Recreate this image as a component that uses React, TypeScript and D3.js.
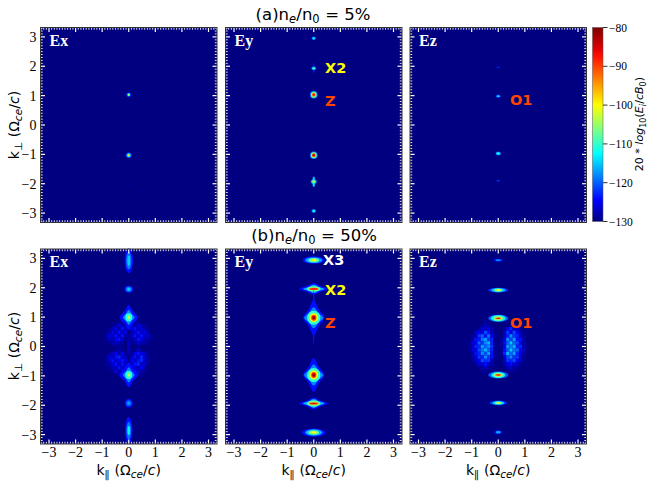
import React from 'react';
import * as d3 from 'd3';

// contour = [half width in k_par, half height in k_perp, level dB, star shape flag]
type Contour = [number, number, number, number?];
type Spot = [number, number, Contour[]];

const smallEx: Spot[] = [
  [0, 1.03, [[0.09, 0.08, -122], [0.05, 0.05, -112], [0.025, 0.025, -100]]],
  [0, -1.03, [[0.1, 0.09, -120], [0.06, 0.06, -110], [0.03, 0.03, -98]]],
  [0, -2.03, [[0.02, 0.02, -127]]],
  [0, -3.0, [[0.02, 0.02, -127]]],
];
const smallEy: Spot[] = [
  [0, 2.95, [[0.08, 0.06, -120], [0.05, 0.035, -113]]],
  [0, 1.93, [[0.03, 0.2, -124], [0.09, 0.07, -120], [0.06, 0.04, -110]]],
  [0, 1.03, [[0.14, 0.13, -118], [0.11, 0.1, -108], [0.08, 0.07, -95], [0.045, 0.045, -87]]],
  [0, -1.03, [[0.14, 0.13, -118], [0.11, 0.1, -108], [0.08, 0.07, -95], [0.05, 0.05, -85]]],
  [0, -1.93, [[0.11, 0.07, -116], [0.05, 0.18, -115], [0.06, 0.05, -105]]],
  [0, -2.93, [[0.09, 0.07, -120], [0.05, 0.04, -112]]],
];
const smallEz: Spot[] = [
  [0, 1.97, [[0.07, 0.025, -123]]],
  [0, 0.98, [[0.09, 0.06, -122], [0.06, 0.03, -114]]],
  [0, -0.97, [[0.1, 0.07, -120], [0.07, 0.04, -112]]],
  [0, -1.9, [[0.07, 0.025, -122]]],
];
const largeEx: Spot[] = [
  [0, 2.92, [[0.16, 0.42, -124], [0.1, 0.3, -119], [0.05, 0.18, -115]]],
  [0, 1.95, [[0.16, 0.12, -124], [0.11, 0.09, -119], [0.06, 0.05, -115]]],
  [0, 0.99, [[0.35, 0.42, -124, 1], [0.22, 0.26, -118, 1], [0.13, 0.14, -111], [0.06, 0.07, -104]]],
  [0, -0.97, [[0.35, 0.42, -124, 1], [0.22, 0.26, -118, 1], [0.13, 0.14, -111], [0.06, 0.07, -104]]],
  [0, -1.93, [[0.15, 0.15, -124], [0.1, 0.1, -120], [0.05, 0.05, -117]]],
  [0, -2.86, [[0.14, 0.45, -124], [0.09, 0.3, -119], [0.05, 0.15, -113]]],
];
const largeEy: Spot[] = [
  [0, 2.94, [[0.42, 0.13, -124], [0.32, 0.1, -117], [0.2, 0.07, -108], [0.1, 0.04, -100]]],
  [0, 1.96, [[0.55, 0.2, -124, 1], [0.4, 0.14, -116, 1], [0.25, 0.09, -107], [0.18, 0.04, -92], [0.13, 0.02, -87]]],
  [0, 0.98, [[0.025, 0.95, -123], [0.4, 0.6, -124, 1], [0.36, 0.36, -118, 1], [0.25, 0.24, -110], [0.16, 0.15, -100], [0.1, 0.1, -90], [0.06, 0.06, -82]]],
  [0, -0.97, [[0.4, 0.58, -124, 1], [0.36, 0.36, -118, 1], [0.25, 0.24, -110], [0.16, 0.15, -100], [0.1, 0.1, -90], [0.06, 0.06, -82]]],
  [0, -1.94, [[0.55, 0.2, -124, 1], [0.4, 0.15, -116, 1], [0.25, 0.1, -107], [0.18, 0.045, -92], [0.13, 0.02, -86]]],
  [0, -2.93, [[0.45, 0.14, -124], [0.32, 0.11, -116], [0.2, 0.07, -107], [0.1, 0.04, -100]]],
];
const largeEz: Spot[] = [
  [0, 2.94, [[0.17, 0.05, -124], [0.1, 0.03, -118]]],
  [0, 1.92, [[0.38, 0.08, -122], [0.27, 0.07, -115], [0.15, 0.05, -106], [0.07, 0.03, -100]]],
  [0, 0.96, [[0.38, 0.12, -120], [0.28, 0.11, -113], [0.18, 0.08, -105], [0.12, 0.03, -92], [0.07, 0.015, -86]]],
  [0, -0.97, [[0.38, 0.12, -120], [0.26, 0.1, -112], [0.17, 0.07, -105], [0.12, 0.03, -92], [0.07, 0.015, -86]]],
  [0, -1.92, [[0.33, 0.08, -122], [0.22, 0.06, -114], [0.12, 0.04, -106], [0.06, 0.025, -100]]],
  [0, -2.92, [[0.15, 0.07, -124], [0.09, 0.04, -116]]],
];

// speckled lobes, dB above the floor, one row per k_perp value
const exLobeParallel = [-0.84, -0.72, -0.6, -0.48, -0.36, -0.24, -0.12, 0, 0.12, 0.24, 0.36, 0.48, 0.6, 0.72, 0.84];
const exLobePerp = [0.84, 0.72, 0.6, 0.48, 0.36, 0.24, 0.12, 0, -0.12, -0.24, -0.36, -0.48, -0.6, -0.72, -0.84, -0.96];
const exLobeLevels = [
  [0, 0, 0, 0, 1, 2, 3, 4, 3, 2, 1, 0, 0, 0, 0],
  [0, 0, 1, 2, 4, 2, 3, 4, 3, 2, 4, 2, 1, 0, 0],
  [0, 1, 2, 5, 2, 6, 3, 1, 4, 6, 3, 4, 2, 1, 0],
  [1, 2, 5, 2, 6, 3, 4, 0, 2, 4, 6, 3, 5, 2, 0],
  [2, 4, 3, 6, 3, 6, 2, 1, 3, 6, 3, 6, 3, 4, 1],
  [1, 3, 2, 5, 6, 3, 1, 2, 1, 3, 6, 4, 2, 2, 1],
  [0, 1, 2, 3, 2, 2, 0, 3, 0, 2, 3, 2, 2, 1, 0],
  [0, 0, 0, 1, 1, 0, 0, 3, 0, 0, 1, 0, 0, 0, 0],
  [0, 0, 0, 1, 2, 1, 0, 3, 0, 1, 3, 1, 0, 0, 0],
  [0, 1, 3, 5, 2, 5, 1, 2, 1, 5, 6, 4, 3, 1, 0],
  [1, 4, 3, 6, 7, 3, 3, 0, 3, 6, 3, 7, 4, 2, 0],
  [1, 3, 6, 3, 5, 6, 4, 1, 5, 3, 6, 7, 3, 2, 0],
  [1, 2, 4, 6, 3, 6, 3, 2, 4, 6, 7, 3, 4, 1, 0],
  [0, 1, 3, 3, 6, 3, 5, 3, 5, 4, 3, 5, 2, 0, 0],
  [0, 0, 1, 4, 2, 5, 3, 4, 2, 5, 3, 2, 1, 0, 0],
  [0, 0, 0, 1, 2, 2, 3, 4, 3, 2, 2, 1, 0, 0, 0],
];
const ezLobeParallel = [-1.08, -0.96, -0.84, -0.72, -0.6, -0.48, -0.36, -0.24, -0.12, 0, 0.12, 0.24, 0.36, 0.48, 0.6, 0.72, 0.84, 0.96, 1.08];
const ezLobePerp = [0.84, 0.72, 0.6, 0.48, 0.36, 0.24, 0.12, 0, -0.12, -0.24, -0.36, -0.48, -0.6, -0.72, -0.84];
const ezLobeLevels = [
  [0, 0, 0, 0, 0, 1, 1, 0, 0, 0, 0, 0, 1, 1, 0, 0, 0, 0, 0],
  [0, 0, 0, 0, 1, 3, 1, 0, 0, 0, 0, 0, 0, 3, 1, 1, 0, 0, 0],
  [0, 0, 0, 2, 4, 3, 5, 2, 0, 0, 0, 1, 5, 7, 3, 3, 1, 0, 0],
  [0, 0, 3, 5, 4, 9, 6, 3, 0, 0, 0, 3, 8, 5, 9, 5, 2, 1, 0],
  [0, 1, 3, 8, 10, 6, 11, 5, 1, 0, 0, 3, 7, 12, 8, 7, 4, 1, 0],
  [0, 2, 6, 6, 11, 13, 8, 7, 1, 0, 1, 5, 12, 9, 13, 6, 6, 2, 0],
  [1, 4, 5, 10, 8, 12, 14, 7, 1, 0, 1, 6, 10, 15, 10, 9, 5, 2, 0],
  [1, 3, 7, 7, 13, 10, 12, 8, 1, 0, 1, 5, 13, 11, 14, 7, 7, 2, 1],
  [1, 4, 5, 9, 11, 14, 10, 7, 1, 0, 1, 6, 10, 15, 11, 10, 5, 3, 0],
  [0, 2, 6, 7, 12, 9, 13, 6, 1, 0, 1, 7, 14, 10, 13, 7, 4, 2, 0],
  [0, 2, 4, 8, 7, 12, 8, 6, 1, 0, 0, 4, 9, 12, 8, 8, 4, 1, 0],
  [0, 1, 3, 5, 9, 7, 8, 3, 0, 0, 0, 3, 8, 7, 9, 5, 3, 1, 0],
  [0, 0, 1, 4, 4, 6, 4, 2, 0, 0, 0, 2, 5, 6, 4, 3, 1, 0, 0],
  [0, 0, 0, 1, 2, 3, 1, 1, 0, 0, 0, 0, 3, 3, 2, 1, 0, 0, 0],
  [0, 0, 0, 0, 1, 1, 0, 0, 0, 0, 0, 0, 1, 1, 1, 0, 0, 0, 0],
];

const colorTicks = [-80, -90, -100, -110, -120, -130];
const axisTicks = [-3, -2, -1, 0, 1, 2, 3];
const jetLevels = [-130, -124.5, -112.5, -100, -87.5, -85.5, -80];
const jetColors = ['#000080', '#0000ff', '#00ffff', '#ffff00', '#ff1000', '#e00000', '#800000'];

const WIDTH = 654;
const HEIGHT = 485;
const FLOOR = -130;
const K_MAX = 3.32;
const PANEL_W = 176.5;
const PANEL_H = 195;
const columns = [40.5, 225.5, 410];
const rows = [27.5, 249];
const SERIF = '"Liberation Serif", serif';
const SANS = '"DejaVu Sans", sans-serif';

const color = d3.scaleLinear<string>().domain(jetLevels).range(jetColors).clamp(true);
const minorTicks = d3.range(-33, 34).map(d => d / 10);
const xScale = d3.scaleLinear().domain([-K_MAX, K_MAX]).range([0, PANEL_W]);
const yScale = d3.scaleLinear().domain([K_MAX, -K_MAX]).range([0, PANEL_H]);
const barScale = d3.scaleLinear().domain([-80, -130]).range([27.5, 221.5]);
const starLine = d3.line().curve(d3.curveCatmullRomClosed.alpha(0.5));

const minus = (d: number) => String(d).replace('-', '\u2212');

function contourMark(c: Contour, key: number, cx: number, cy: number) {
  const rx = xScale(c[0]) - xScale(0);
  const ry = yScale(-c[1]) - yScale(0);
  if (c[3]) {
    const w = 0.48;
    const pts: [number, number][] = [
      [cx + rx, cy], [cx + rx * w, cy + ry * w], [cx, cy + ry], [cx - rx * w, cy + ry * w],
      [cx - rx, cy], [cx - rx * w, cy - ry * w], [cx, cy - ry], [cx + rx * w, cy - ry * w],
    ];
    return <path key={key} d={starLine(pts) as string} fill={color(c[2])} />;
  }
  return <ellipse key={key} cx={cx} cy={cy} rx={rx} ry={ry} fill={color(c[2])} />;
}

const Lobes: React.FC<{ par: number[]; perp: number[]; levels: number[][] }> = ({ par, perp, levels }) => {
  const w = xScale(par[1]) - xScale(par[0]);
  const h = yScale(perp[1]) - yScale(perp[0]);
  return (
    <g>
      {levels.map((row, i) => row.map((v, j) => v > 0 && (
        <rect key={`${i}-${j}`} x={xScale(par[j]) - w / 2} y={yScale(perp[i]) - h / 2}
          width={w} height={h} fill={color(FLOOR + v)} />
      )))}
    </g>
  );
};

const Ticks: React.FC = () => (
  <g stroke="#fff" strokeWidth={0.9}>
    {minorTicks.map(d => {
      const major = Number.isInteger(d);
      const len = major ? 4.5 : 2.2;
      const x = xScale(d);
      const y = yScale(d);
      return (
        <g key={d} strokeWidth={major ? 1.2 : 0.9}>
          <line x1={x} x2={x} y1={0} y2={len} />
          <line x1={x} x2={x} y1={PANEL_H - len} y2={PANEL_H} />
          <line x1={0} x2={len} y1={y} y2={y} />
          <line x1={PANEL_W - len} x2={PANEL_W} y1={y} y2={y} />
        </g>
      );
    })}
  </g>
);

const Panel: React.FC<{
  col: number; row: number; name: string; spots: Spot[]; lobes?: React.ReactNode; yLabels?: boolean; xLabels?: boolean;
}> = ({ col, row, name, spots, lobes, yLabels, xLabels }) => (
  <g transform={`translate(${columns[col]},${rows[row]})`}>
    <rect width={PANEL_W} height={PANEL_H} fill={color(FLOOR)} />
    <g filter="url(#soft)">
      {lobes}
      {spots.map((s, i) => (
        <g key={i}>{s[2].map((c, j) => contourMark(c, j, xScale(s[0]), yScale(s[1])))}</g>
      ))}
    </g>
    <Ticks />
    <rect width={PANEL_W} height={PANEL_H} fill="none" stroke="#333" strokeWidth={1} />
    <text x={9} y={18} fill="#fff" fontFamily={SERIF} fontWeight="bold" fontSize={16}>{name}</text>
    {yLabels && axisTicks.map(d => (
      <text key={d} x={-4} y={yScale(d)} dy="0.35em" textAnchor="end" fontFamily={SERIF} fontSize={14}>{minus(d)}</text>
    ))}
    {xLabels && axisTicks.map(d => (
      <text key={d} x={xScale(d)} y={PANEL_H + 13} textAnchor="middle" fontFamily={SERIF} fontSize={14}>{minus(d)}</text>
    ))}
  </g>
);

const Sub: React.FC<{ children: React.ReactNode; italic?: boolean; size?: number }> = ({ children, italic, size = 10.5 }) => (
  <>
    <tspan dy={3} fontSize={size} fontStyle={italic ? 'italic' : 'normal'}>{children}</tspan>
    <tspan dy={-3} fontSize={2}>{'\u200a'}</tspan>
  </>
);

const AxisText: React.FC<{ sym: string }> = ({ sym }) => (
  <>
    k<Sub>{sym}</Sub> (Ω<Sub italic>ce</Sub>/<tspan fontStyle="italic">c</tspan>)
  </>
);

const Title: React.FC<{ x: number; y: number; tag: string; value: string }> = ({ x, y, tag, value }) => (
  <text x={x} y={y} textAnchor="middle" fontFamily={SANS} fontSize={16.5}>
    {tag}n<Sub italic size={11.5}>e</Sub>/n<Sub size={11.5}>0</Sub> = {value}
  </text>
);

const Note: React.FC<{ x: number; y: number; fill: string; children: string }> = ({ x, y, fill, children }) => (
  <text x={x} y={y} dy="0.36em" fill={fill} fontFamily={SANS} fontWeight="bold" fontSize={14.5}>{children}</text>
);

export default function App() {
  return (
    <svg width={WIDTH} height={HEIGHT} style={{ position: 'absolute', left: 0, top: 0, background: '#fff' }}>
      <defs>
        <filter id="soft" x="-5%" y="-5%" width="110%" height="110%">
          <feGaussianBlur stdDeviation={0.55} />
        </filter>
        <linearGradient id="jet" x1={0} x2={0} y1={1} y2={0}>
          {jetLevels.map(l => (
            <stop key={l} offset={(l - FLOOR) / 50} stopColor={color(l)} />
          ))}
        </linearGradient>
      </defs>

      <Title x={313} y={20} tag="(a)" value="5%" />
      <Title x={314} y={241} tag="(b)" value="50%" />

      <Panel col={0} row={0} name="Ex" spots={smallEx} yLabels />
      <Panel col={1} row={0} name="Ey" spots={smallEy} />
      <Panel col={2} row={0} name="Ez" spots={smallEz} />
      <Panel col={0} row={1} name="Ex" spots={largeEx} yLabels xLabels
        lobes={<Lobes par={exLobeParallel} perp={exLobePerp} levels={exLobeLevels} />} />
      <Panel col={1} row={1} name="Ey" spots={largeEy} xLabels />
      <Panel col={2} row={1} name="Ez" spots={largeEz} xLabels
        lobes={<Lobes par={ezLobeParallel} perp={ezLobePerp} levels={ezLobeLevels} />} />

      <Note x={325} y={68} fill="#ffff00">X2</Note>
      <Note x={325} y={101} fill="#ff4500">Z</Note>
      <Note x={510} y={100} fill="#ff4500">O1</Note>
      <Note x={323} y={260} fill="#fff">X3</Note>
      <Note x={325} y={290} fill="#ffff00">X2</Note>
      <Note x={325} y={323} fill="#ff4500">Z</Note>
      <Note x={510} y={323} fill="#ff4500">O1</Note>

      <text transform="translate(19,125) rotate(-90)" textAnchor="middle" fontFamily={SANS} fontSize={14}>
        <AxisText sym="⊥" />
      </text>
      <text transform="translate(19,346) rotate(-90)" textAnchor="middle" fontFamily={SANS} fontSize={14}>
        <AxisText sym="⊥" />
      </text>
      {columns.map(c => (
        <text key={c} x={c + PANEL_W / 2} y={475} textAnchor="middle" fontFamily={SANS} fontSize={14}>
          <AxisText sym="∥" />
        </text>
      ))}

      <rect x={592.5} y={27.5} width={10.5} height={194} fill="url(#jet)" stroke="#555" strokeWidth={0.5} />
      {colorTicks.map(d => (
        <g key={d}>
          <line x1={603} x2={607.5} y1={barScale(d)} y2={barScale(d)} stroke="#000" strokeWidth={0.8} />
          <text x={609} y={barScale(d)} dy="0.35em" fontFamily={SERIF} fontSize={11.5}>{minus(d)}</text>
        </g>
      ))}
      <text transform="translate(643,124) rotate(-90)" textAnchor="middle" fontFamily={SANS} fontSize={11}>
        20 * <tspan fontStyle="italic">log</tspan><Sub size={8}>10</Sub>(<tspan fontStyle="italic">E</tspan><Sub italic size={8}>i</Sub>/<tspan fontStyle="italic">cB</tspan><Sub size={8}>0</Sub>)
      </text>
    </svg>
  );
}
